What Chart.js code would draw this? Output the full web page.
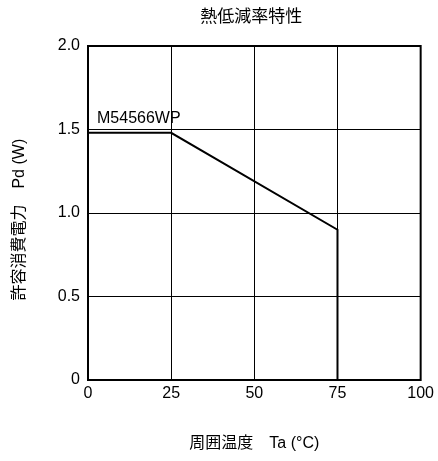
<!DOCTYPE html>
<html>
<head>
<meta charset="utf-8">
<script src="https://cdn.jsdelivr.net/npm/chart.js@4.4.1/dist/chart.umd.min.js"></script>
<style>
  body { margin: 0; background: #fff; }
</style>
</head>
<body>
<canvas id="myChart" width="438" height="461"></canvas>
<script>
// 熱低減率特性のデータ
const temps = [0, 25, 75, 75];
const power = [1.48, 1.48, 0.9, 0];
const xTicks = [0, 25, 50, 75, 100];
const yTicks = [0, 0.5, 1.0, 1.5, 2.0];
const seriesName = "M54566WP";
const chartTitle = "熱低減率特性";
const xTitle = "周囲温度　Ta (°C)";
const yTitle = "許容消費電力　Pd (W)   ";

const FONT = "'Liberation Sans', Arial, 'Noto Sans CJK JP', sans-serif";

// 外枠・タイトル・系列名を描く
const extras = {
    id: "extras",
    afterDraw(chart) {
        const { ctx, chartArea: a, scales } = chart;
        ctx.save();
        ctx.strokeStyle = "#000";
        ctx.lineWidth = 2;
        ctx.strokeRect(a.left, a.top, a.right - a.left, a.bottom - a.top);

        ctx.fillStyle = "#000";
        ctx.font = "17px " + FONT;
        ctx.textAlign = "center";
        ctx.textBaseline = "middle";
        ctx.fillText(chartTitle, (a.left + a.right) / 2 - 3, 17);

        ctx.font = "16px " + FONT;
        ctx.textAlign = "left";
        ctx.textBaseline = "alphabetic";
        ctx.fillText(seriesName, scales.x.getPixelForValue(temps[0]) + 9, scales.y.getPixelForValue(power[0]) - 10);
        ctx.restore();
    }
};

const ctx = document.getElementById("myChart").getContext("2d");
const myChart = new Chart(ctx, {
    type: "line",
    data: {
        datasets: [
            {
                label: seriesName,
                data: temps.map((t, i) => ({ x: t, y: power[i] })),
                borderColor: "#000",
                borderWidth: 2,
                pointRadius: 0,
                tension: 0,
                fill: false,
            },
        ],
    },
    options: {
        responsive: false,
        animation: false,
        layout: { padding: { top: 46, right: 16, left: 0, bottom: 0 } },
        plugins: {
            legend: { display: false },
            tooltip: { enabled: false },
        },
        scales: {
            x: {
                type: "linear",
                min: xTicks[0],
                max: xTicks[xTicks.length - 1],
                afterBuildTicks: (s) => { s.ticks = xTicks.map(v => ({ value: v })); },
                afterFit: (s) => { s.height = 81; },
                grid: { color: "#000", lineWidth: 1, drawTicks: false },
                border: { display: false },
                ticks: {
                    color: "#000",
                    padding: 4,
                    font: { family: FONT, size: 16 },
                },
                title: {
                    display: true,
                    text: xTitle,
                    color: "#000",
                    font: { family: FONT, size: 16 },
                    padding: { top: 0, bottom: 8 },
                },
            },
            y: {
                min: yTicks[0],
                max: yTicks[yTicks.length - 1],
                afterBuildTicks: (s) => { s.ticks = yTicks.map(v => ({ value: v })); },
                afterFit: (s) => { s.width = 88; },
                grid: { color: "#000", lineWidth: 1, drawTicks: false },
                border: { display: false },
                ticks: {
                    color: "#000",
                    padding: 8,
                    font: { family: FONT, size: 16 },
                    callback: (v) => (v === 0 ? "0" : v.toFixed(1)),
                },
                title: {
                    display: true,
                    text: yTitle,
                    color: "#000",
                    font: { family: FONT, size: 16 },
                    padding: { top: 10, bottom: 0 },
                },
            },
        },
    },
    plugins: [extras],
});
</script>
</body>
</html>
